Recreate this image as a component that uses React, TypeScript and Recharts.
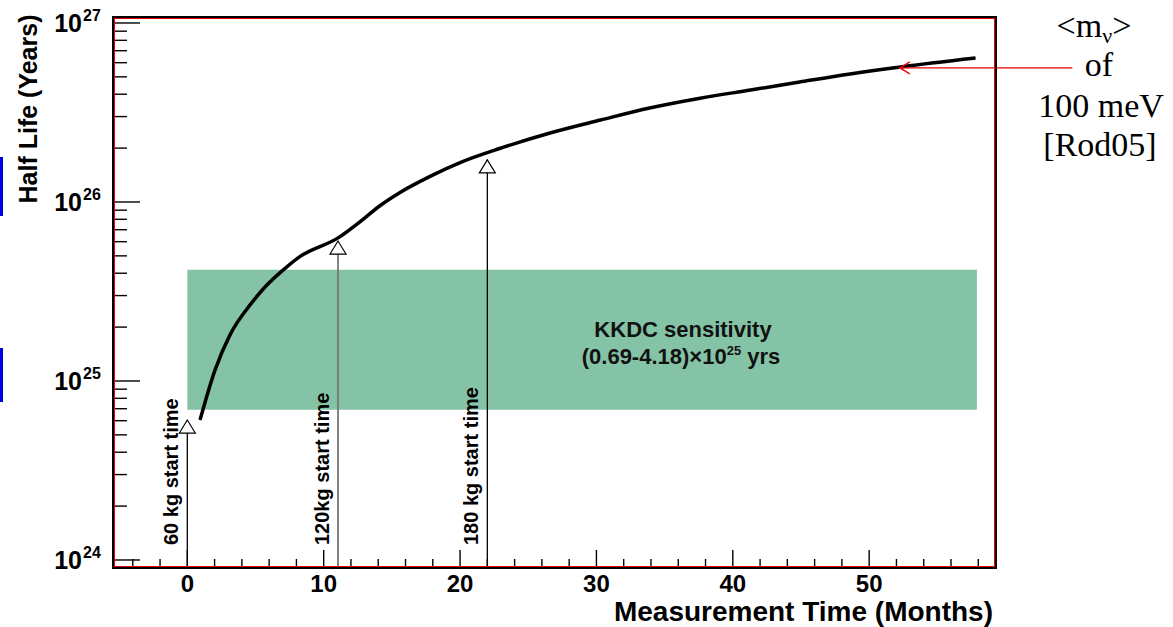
import { ComposedChart, Line, Scatter, XAxis, YAxis, ReferenceArea, ReferenceLine } from "recharts";

// half-life sensitivity curve
const months = [0.93, 2.03, 3.13, 4.6, 5.7, 7.0, 8.25, 11.05, 12.7, 14.1, 15.6, 17.8, 20.0, 22.9, 26.6, 30.3, 33.9, 37.6, 41.3, 44.9, 48.6, 52.3, 57.8];
const halfLife = [6.05e24, 1.15e25, 1.81e25, 2.66e25, 3.35e25, 4.15e25, 4.95e25, 6.3e25, 7.8e25, 9.5e25, 1.13e26, 1.39e26, 1.66e26, 1.99e26, 2.43e26, 2.87e26, 3.35e26, 3.8e26, 4.22e26, 4.68e26, 5.19e26, 5.68e26, 6.37e26];

// start-time arrows
const startLabels = ["60 kg start time", "120kg start time", "180 kg start time"];
const startMonths = [0, 11.05, 22];
const startTips = [6.05e24, 6.05e25, 1.72e26];
const startColors = ["#000", "#777", "#000"];

// KKDC band
const bandMonths = [0, 57.9];
const bandRange = [6.9e24, 4.18e25];

// <m> = 100 meV arrow
const refFrom = { x: 64.9, y: 5.61e26 };
const refTo = { x: 52.25, y: 5.61e26 };

const xDomain = [-5.45, 59.3];
const yDomain = [9.02e23, 1.08e27];
const xMajor = [0, 10, 20, 30, 40, 50];
const xTicks = [-4, -2, 0, 2, 4, 6, 8, 10, 12, 14, 16, 18, 20, 22, 24, 26, 28, 30, 32, 34, 36, 38, 40, 42, 44, 46, 48, 50, 52, 54, 56, 58];
const yTicks = [
  1e24, 2e24, 3e24, 4e24, 5e24, 6e24, 7e24, 8e24, 9e24,
  1e25, 2e25, 3e25, 4e25, 5e25, 6e25, 7e25, 8e25, 9e25,
  1e26, 2e26, 3e26, 4e26, 5e26, 6e26, 7e26, 8e26, 9e26,
  1e27,
];

const curveData = months.map((m, i) => ({ x: m, y: halfLife[i] }));
const startData = startMonths.map((m, i) => ({ x: m, y: startTips[i], label: startLabels[i], color: startColors[i] }));

const W = 1173;
const H = 627;
const PL = 113, PT = 17, PR = 996, PB = 568;
const SANS = "'Liberation Sans', Arial, sans-serif";
const SERIF = "'Liberation Serif', 'Times New Roman', serif";

const YTick = (props: any) => {
  const { x, y, payload } = props;
  const v = payload.value;
  const exp = Math.round(Math.log10(v));
  const major = Math.abs(v - Math.pow(10, exp)) < v * 1e-6;
  return (
    <g>
      <line x1={x} x2={x + (major ? 27 : 14)} y1={y} y2={y} stroke="#000" strokeWidth={1.4} />
      {major && (
        <text x={x - 31} y={y + 9} textAnchor="end" fontSize={25} fontWeight="bold" fontFamily={SANS} fill="#000">10</text>
      )}
      {major && (
        <text x={x - 30} y={y - 2} fontSize={16} fontWeight="bold" fontFamily={SANS} fill="#000">{exp}</text>
      )}
    </g>
  );
};

const XTick = (props: any) => {
  const { x, y, payload } = props;
  const major = xMajor.includes(payload.value);
  return (
    <g>
      <line x1={x} x2={x} y1={y} y2={y - (major ? 18 : 9)} stroke="#000" strokeWidth={1.4} />
      {major && (
        <text x={x} y={y + 24} textAnchor="middle" fontSize={24} fontWeight="bold" fontFamily={SANS} fill="#000">{payload.value}</text>
      )}
    </g>
  );
};

const StartMarker = (props: any) => {
  const { cx, cy, payload } = props;
  return (
    <g>
      <polygon points={`${cx},${cy} ${cx - 8},${cy + 13} ${cx + 8},${cy + 13}`} fill="#fff" stroke="#000" strokeWidth={1.2} />
      <text
        transform={`translate(${cx - 9},${PB - 23}) rotate(-90)`}
        fontSize={20}
        fontWeight="bold"
        fontFamily={SANS}
        fill="#000"
      >
        {payload.label}
      </text>
    </g>
  );
};

const RedArrow = (props: any) => {
  const { x1, y1, x2, y2 } = props;
  return (
    <g>
      <line x1={x1} y1={y1} x2={x2} y2={y2} stroke="#e00" strokeWidth={1.3} />
      <polyline points={`${x2 + 10},${y2 - 6} ${x2},${y2} ${x2 + 10},${y2 + 6}`} fill="none" stroke="#e00" strokeWidth={1.3} />
    </g>
  );
};

export default function App() {
  return (
    <div style={{ position: "absolute", left: 0, top: 0, width: W, height: H, background: "#fff" }}>
      <ComposedChart width={W} height={H} margin={{ top: PT, right: W - PR, left: 0, bottom: 0 }}>
        <XAxis
          type="number"
          dataKey="x"
          domain={xDomain}
          allowDataOverflow
          ticks={xTicks}
          interval={0}
          tick={<XTick />}
          tickLine={false}
          tickSize={0}
          tickMargin={0}
          axisLine={false}
          height={H - PB}
        />
        <YAxis
          type="number"
          dataKey="y"
          scale="log"
          domain={yDomain}
          allowDataOverflow
          ticks={yTicks}
          interval={0}
          tick={<YTick />}
          tickLine={false}
          tickSize={0}
          tickMargin={0}
          axisLine={false}
          width={PL}
        />
        <ReferenceArea
          x1={bandMonths[0]}
          x2={bandMonths[1]}
          y1={bandRange[0]}
          y2={bandRange[1]}
          fill="#85c3a6"
          fillOpacity={1}
          stroke="none"
        />
        {startData.map((d, i) => (
          <ReferenceLine
            key={i}
            segment={[{ x: d.x, y: yDomain[0] }, { x: d.x, y: d.y }]}
            stroke={d.color}
            strokeWidth={d.color === "#000" ? 1.3 : 1.8}
          />
        ))}
        <Line
          data={curveData}
          dataKey="y"
          type="monotone"
          stroke="#000"
          strokeWidth={3.5}
          dot={false}
          isAnimationActive={false}
        />
        <Scatter data={startData} dataKey="y" shape={<StartMarker />} isAnimationActive={false} />
        <ReferenceLine segment={[refFrom, refTo]} ifOverflow="visible" shape={<RedArrow />} />
      </ComposedChart>
      <svg width={W} height={H} style={{ position: "absolute", left: 0, top: 0, pointerEvents: "none" }}>
        <rect x={0} y={157} width={3} height={59} fill="#0000dd" />
        <rect x={0} y={348} width={3} height={54} fill="#0000dd" />
        <rect x={PL} y={PT} width={PR - PL} height={PB - PT} fill="none" stroke="#000" strokeWidth={2} />
        <rect x={PL + 1.5} y={PT + 1.5} width={PR - PL - 3} height={PB - PT - 3} fill="none" stroke="#e00" strokeWidth={1} />
        <text transform="translate(37,109) rotate(-90)" textAnchor="middle" fontSize={25} fontWeight="bold" fontFamily={SANS} fill="#000">
          Half Life (Years)
        </text>
        <text x={993} y={621} textAnchor="end" fontSize={28} fontWeight="bold" fontFamily={SANS} fill="#000">
          Measurement Time (Months)
        </text>
        <text x={683} y={337} textAnchor="middle" fontSize={22} fontWeight="bold" fontFamily={SANS} fill="#111">
          KKDC sensitivity
        </text>
        <text x={681} y={364} textAnchor="middle" fontSize={22} fontWeight="bold" fontFamily={SANS} fill="#111">
          (0.69-4.18)×10<tspan dy={-9} fontSize={13}>25</tspan><tspan dy={9}> yrs</tspan>
        </text>
        <text x={1094} y={37} textAnchor="middle" fontSize={34} fontFamily={SERIF} fill="#000">
          &lt;m<tspan dy={6} fontSize={22}>ν</tspan><tspan dy={-6}>&gt;</tspan>
        </text>
        <text x={1099} y={76} textAnchor="middle" fontSize={34} fontFamily={SERIF} fill="#000">of</text>
        <text x={1101} y={117} textAnchor="middle" fontSize={34} fontFamily={SERIF} fill="#000">100 meV</text>
        <text x={1100} y={156} textAnchor="middle" fontSize={34} fontFamily={SERIF} fill="#000">[Rod05]</text>
      </svg>
    </div>
  );
}
